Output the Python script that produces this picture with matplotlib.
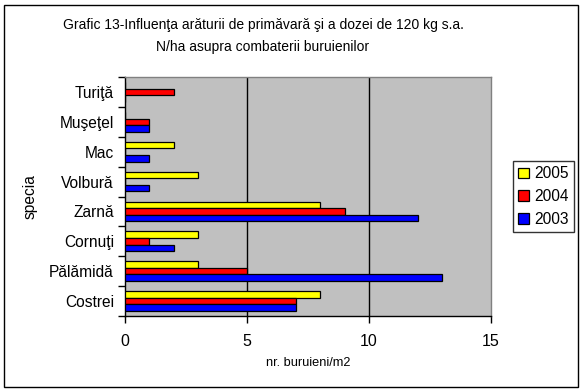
import matplotlib
matplotlib.use("Agg")
import matplotlib.pyplot as plt
import numpy as np
from matplotlib.patches import Rectangle

plt.rcParams['font.family'] = ['Liberation Sans', 'DejaVu Sans']

categories = ["Costrei", "Pălămidă", "Cornuţi", "Zarnă", "Volbură", "Mac", "Muşeţel", "Turiţă"]
series_names = ["2005", "2004", "2003"]
v2005 = [8, 3, 3, 8, 3, 2, 0, 0]
v2004 = [7, 5, 1, 9, 0, 0, 1, 2]
v2003 = [7, 13, 2, 12, 1, 1, 1, 0]
colors = ["#FFFF00", "#FF0000", "#0000FF"]
xticks = [0, 5, 10, 15]

W, H = 584, 391
fig = plt.figure(figsize=(W / 100, H / 100), dpi=100)
ax = fig.add_axes([125 / W, 1 - 316 / H, (491 - 125) / W, (316 - 77) / H])
ax.set_facecolor("#C0C0C0")

y = np.arange(len(categories))
bh = 0.22
offsets = [bh, 0, -bh]
for vals, off, c, name in zip([v2005, v2004, v2003], offsets, colors, series_names):
    ax.barh(y + off, vals, height=bh, color=c, edgecolor="black", linewidth=0.9,
            label=name, zorder=3)

ax.set_xlim(0, 15)
ax.set_ylim(-0.5, len(categories) - 0.5)
ax.set_xticks(xticks)
ax.set_xticklabels([str(t) for t in xticks], fontsize=11.5)
ax.set_yticks(y)
ax.set_yticklabels(categories, fontsize=11.2)
ax.set_yticks(np.arange(-0.5, len(categories), 1), minor=True)
ax.tick_params(axis='y', which='major', length=0, pad=8)
ax.tick_params(axis='y', which='minor', length=5, direction='out', width=1)
ax.tick_params(axis='x', which='major', length=5, direction='out', width=1, pad=8)

for xv in [5, 10]:
    ax.axvline(xv, color="black", linewidth=1, zorder=1)

for s in ["top", "right"]:
    ax.spines[s].set_color("#808080")
    ax.spines[s].set_linewidth(1)
for s in ["left", "bottom"]:
    ax.spines[s].set_color("black")
    ax.spines[s].set_linewidth(1)

ax.set_xlabel("nr. buruieni/m2", fontsize=9.2, labelpad=6)
ax.set_ylabel("specia", fontsize=11.2, labelpad=8)

fig.text(263 / W, 1 - 25 / H, "Grafic 13-Influenţa arăturii de primăvară şi a dozei de 120 kg s.a.",
         ha="center", va="center", fontsize=10)
fig.text(263 / W, 1 - 47 / H, "N/ha asupra combaterii buruienilor",
         ha="center", va="center", fontsize=10)

leg = fig.legend(loc="upper left", bbox_to_anchor=(513 / W, 1 - 161 / H),
                 fontsize=11.2, frameon=True, fancybox=False, shadow=False,
                 handlelength=0.7, handleheight=0.7, handletextpad=0.3,
                 borderpad=0.35, labelspacing=0.5, borderaxespad=0)
leg.get_frame().set_edgecolor("black")
leg.get_frame().set_linewidth(1)

fig.patches.append(Rectangle((4 / W, 1 - 387 / H), (578 - 4) / W, (387 - 5) / H,
                             transform=fig.transFigure, fill=False,
                             edgecolor="black", linewidth=1))

fig.savefig("out.png", dpi=100)
